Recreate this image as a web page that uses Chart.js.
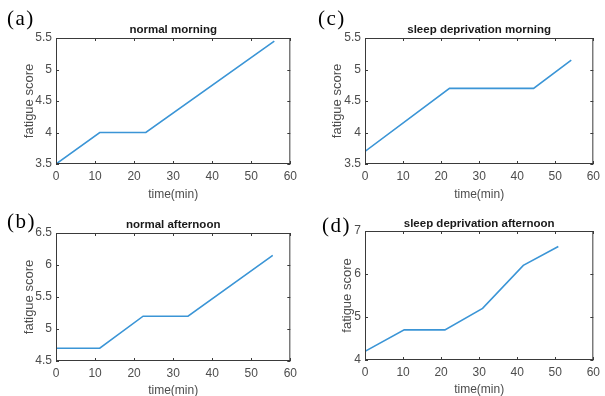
<!DOCTYPE html>
<html>
<head>
<meta charset="utf-8">
<script src="https://cdn.jsdelivr.net/npm/chart.js@4"></script>
<style>
  body { margin:0; background:#fff; width:605px; height:396px; position:relative; overflow:hidden; }
  canvas { position:absolute; }
  .tag { position:absolute; font-family:'Liberation Serif', serif; font-size:21px; letter-spacing:1.5px; color:#000; line-height:1; }
</style>
</head>
<body>
<canvas id="canvA"></canvas>
<canvas id="canvB"></canvas>
<canvas id="canvC"></canvas>
<canvas id="canvD"></canvas>
<div class="tag" style="left:7px;top:8px">(a)</div>
<div class="tag" style="left:318px;top:8px">(c)</div>
<div class="tag" style="left:7px;top:211px">(b)</div>
<div class="tag" style="left:322px;top:215px">(d)</div>
<script>
// data
const timeA = [0, 11.2, 23, 55.9];
const scoreA = [3.5, 4.0, 4.0, 5.45];
const timeB = [0, 11.2, 22.3, 33.8, 55.5];
const scoreB = [4.7, 4.7, 5.2, 5.2, 6.15];
const timeC = [0, 22.2, 44.3, 54.2];
const scoreC = [3.7, 4.7, 4.7, 5.15];
const timeD = [0, 10.3, 21, 30.9, 41.6, 50.8];
const scoreD = [4.2, 4.7, 4.7, 5.2, 6.2, 6.64];

const xTicks = [0, 10, 20, 30, 40, 50, 60];
const yTicksA = [3.5, 4, 4.5, 5, 5.5];
const yTicksB = [4.5, 5, 5.5, 6, 6.5];
const yTicksC = [3.5, 4, 4.5, 5, 5.5];
const yTicksD = [4, 5, 6, 7];

Chart.defaults.font.family = "'Liberation Sans', Arial, sans-serif";
Chart.defaults.color = '#4d4d4d';

// frame + inward ticks on all four sides, MATLAB style
const boxPlugin = {
    id: 'box',
    afterDraw(chart) {
        const {ctx, chartArea: a, scales} = chart;
        ctx.save();
        ctx.strokeStyle = '#3a3a3a';
        ctx.lineWidth = 1;
        ctx.strokeRect(a.left + 0.5, a.top + 0.5, a.right - a.left - 1, a.bottom - a.top - 1);
        ctx.beginPath();
        scales.x.ticks.forEach(t => {
            const px = Math.round(scales.x.getPixelForValue(t.value)) + 0.5;
            ctx.moveTo(px, a.bottom); ctx.lineTo(px, a.bottom - 3);
            ctx.moveTo(px, a.top); ctx.lineTo(px, a.top + 3);
        });
        scales.y.ticks.forEach(t => {
            const py = Math.round(scales.y.getPixelForValue(t.value)) + 0.5;
            ctx.moveTo(a.left, py); ctx.lineTo(a.left + 3, py);
            ctx.moveTo(a.right, py); ctx.lineTo(a.right - 3, py);
        });
        ctx.stroke();
        ctx.restore();
    }
};

// builds one panel; box = canvas rect, area = wanted plot area, pos = title centres (page coords)
function makePanel(id, title, times, scores, yTicks, box, area, pos) {
    const canv = document.getElementById(id);
    canv.style.left = box.x + 'px';
    canv.style.top = box.y + 'px';
    canv.width = box.w;
    canv.height = box.h;
    const titleSize = 11.5;
    const titlePadBottom = Math.max(0, area.t - pos.title - 1.4 - titleSize * 0.6);
    const titleH = titleSize * 1.2 + titlePadBottom;
    const yWidth = area.l - box.x;
    const xHeight = box.y + box.h - area.b;
    return new Chart(canv, {
        type: 'line',
        data: {
            datasets: [{
                data: times.map((t, i) => ({x: t, y: scores[i]})),
                borderColor: '#3b95d6',
                borderWidth: 1.6,
                pointRadius: 0,
                tension: 0
            }]
        },
        plugins: [boxPlugin],
        options: {
            responsive: false,
            animation: false,
            layout: {
                padding: {left: 0, right: box.x + box.w - area.r, top: area.t - box.y - titleH, bottom: 0}
            },
            plugins: {
                legend: {display: false},
                tooltip: {enabled: false},
                title: {
                    display: true,
                    fullSize: false,
                    text: title,
                    color: '#1a1a1a',
                    font: {size: titleSize, weight: 'bold'},
                    padding: {top: 0, bottom: titlePadBottom}
                }
            },
            scales: {
                x: {
                    type: 'linear',
                    min: xTicks[0],
                    max: xTicks[xTicks.length - 1],
                    afterBuildTicks: s => { s.ticks = xTicks.map(v => ({value: v})); },
                    afterFit: s => { s.height = xHeight; },
                    grid: {display: false, drawTicks: false},
                    border: {display: false},
                    ticks: {font: {size: 12}, padding: 5, maxRotation: 0, callback: v => String(v)},
                    title: {
                        display: true,
                        text: 'time(min)',
                        font: {size: 12},
                        color: '#4d4d4d',
                        padding: {top: 0, bottom: box.y + box.h - pos.x - 7.2 - 2}
                    }
                },
                y: {
                    min: yTicks[0],
                    max: yTicks[yTicks.length - 1],
                    afterBuildTicks: s => { s.ticks = yTicks.map(v => ({value: v})); },
                    afterFit: s => { s.width = yWidth; },
                    grid: {display: false, drawTicks: false},
                    border: {display: false},
                    ticks: {font: {size: 12}, padding: 4, callback: v => String(v)},
                    title: {
                        display: true,
                        text: 'fatigue score',
                        font: {size: 13},
                        color: '#4d4d4d',
                        padding: {top: pos.y - box.x - 7.8, bottom: 0}
                    }
                }
            }
        }
    });
}

makePanel('canvA', 'normal morning', timeA, scoreA, yTicksA,
    {x: 0, y: 0, w: 302, h: 210}, {l: 56, r: 292, t: 38, b: 164}, {title: 28.3, x: 193, y: 29.5});
makePanel('canvC', 'sleep deprivation morning', timeC, scoreC, yTicksC,
    {x: 302, y: 0, w: 303, h: 210}, {l: 365, r: 598, t: 38, b: 164}, {title: 28.3, x: 193, y: 337.5});
makePanel('canvB', 'normal afternoon', timeB, scoreB, yTicksB,
    {x: 0, y: 198, w: 302, h: 210}, {l: 56, r: 292, t: 233, b: 361}, {title: 223, x: 389, y: 29.5});
makePanel('canvD', 'sleep deprivation afternoon', timeD, scoreD, yTicksD,
    {x: 302, y: 198, w: 303, h: 210}, {l: 365, r: 598, t: 231, b: 360}, {title: 223, x: 388, y: 347});
</script>
</body>
</html>
